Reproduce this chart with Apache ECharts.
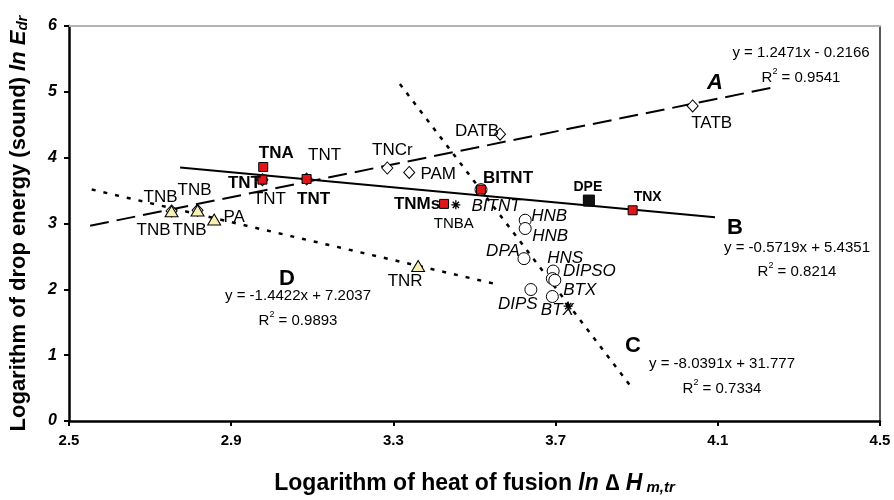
<!DOCTYPE html>
<html><head><meta charset="utf-8">
<script src="https://cdn.jsdelivr.net/npm/echarts@6/dist/echarts.min.js"></script>
<style>html,body{margin:0;padding:0;background:#fff}#c{width:894px;height:500px}</style>
</head><body><div id="c"></div>
<script>
// ---------- DATA ----------
const xTicks = [2.5, 2.9, 3.3, 3.7, 4.1, 4.5];
const yTicks = [0, 1, 2, 3, 4, 5, 6];

// Group A (open diamonds)
const aNames = ['TNB', 'TNB', 'TNT', 'TNT', 'TNCr', 'PAM', 'DATB', 'TATB'];
const aX = [2.753, 2.817, 2.977, 3.086, 3.285, 3.339, 3.563, 4.038];
const aY = [3.19, 3.20, 3.666, 3.676, 3.843, 3.776, 4.357, 4.785];

// Group B (red squares)
const bNames = ['TNA', 'TNT', 'TNT', 'TNMs', 'BITNT', 'TNX'];
const bX = [2.979, 2.977, 3.086, 3.425, 3.516, 3.890];
const bY = [3.858, 3.666, 3.676, 3.298, 3.514, 3.201];

// DPE (black square)
const dpeNames = ['DPE'];
const dpeX = [3.782];
const dpeY = [3.348];

// Group C (open circles)
const cNames = ['BITNT', 'HNB', 'HNB', 'DPA', 'HNS', 'DIPSO', 'BTX', 'DIPS', 'BTX'];
const cX = [3.516, 3.625, 3.625, 3.622, 3.694, 3.692, 3.698, 3.639, 3.692];
const cY = [3.514, 3.050, 2.924, 2.466, 2.278, 2.163, 2.138, 1.997, 1.891];

// Group D (triangles)
const dNames = ['TNB', 'TNB', 'PA', 'TNR'];
const dX = [2.753, 2.817, 2.858, 3.361];
const dY = [3.186, 3.197, 3.060, 2.354];

// Asterisk markers
const sNames = ['TNBA', ''];
const sX = [3.454, 3.731];
const sY = [3.283, 1.745];

// Trend lines (end points)
const lineAX = [2.552, 4.236], lineAY = [2.966, 5.066];
const lineBX = [2.774, 4.093], lineBY = [3.849, 3.094];
const lineCX = [3.316, 3.890], lineCY = [5.119, 0.490];
const lineDX = [2.556, 3.550], lineDY = [3.517, 2.084];

// Equation texts
const eqA = ['y = 1.2471x - 0.2166', '0.9541'];
const eqB = ['y = -0.5719x + 5.4351', '0.8214'];
const eqC = ['y = -8.0391x + 31.777', '0.7334'];
const eqD = ['y = -1.4422x + 7.2037', '0.9893'];

// ---------- LAYOUT (label offsets, px) ----------
const aOff = [[-11, -14], [-3, -20], [7, 20], [18, -24], [5, -18], [29, 2], [-23, -3], [19, 17]];
const bOff = [[13, -14], [-18, 4], [7, 20], [-27, 0], [27, -11], [15, -13]];
const bSize = [17, 17, 17, 17, 17, 14];
const dpeOff = [[-1, -13]];
const cOff = [[15, 17], [24, -4], [25, 8], [-21, -7], [12, -13], [37, -7], [25, 10], [-13, 15], [5, 14]];
const dOff = [[-18, 19], [-8, 20], [20, -2], [-13, 15]];
const sOff = [[-2, 19], [0, 0]];

const FONT = '"Liberation Sans", Arial, Helvetica, sans-serif';

function pairs(xs, ys) { return xs.map((x, i) => [x, ys[i]]); }
function items(names, xs, ys, offs, style, sizes) {
  return xs.map((x, i) => ({
    value: [x, ys[i]],
    name: names[i],
    label: Object.assign({
      show: !!names[i], formatter: '{b}', position: 'inside', offset: offs[i],
      color: '#000', fontFamily: FONT, fontSize: sizes ? sizes[i] : 17
    }, style)
  }));
}
function trend(xs, ys, dash, w) {
  return {
    type: 'line', data: pairs(xs, ys), showSymbol: false, symbol: 'none', silent: true,
    lineStyle: { color: '#000', width: w, type: dash }, z: 1, animation: false
  };
}

const chart = echarts.init(document.getElementById('c'), null, { renderer: 'canvas' });

function eqGraphics(eq, cx, cy1, cy2) {
  return [
    { type: 'text', x: cx, y: cy1, style: { text: eq[0], font: '15px ' + FONT, fill: '#000', align: 'center', verticalAlign: 'middle' } },
    { type: 'text', x: cx, y: cy2, style: {
      text: '{r|R}{s|2}{r| = ' + eq[1] + '}', align: 'center', verticalAlign: 'middle',
      rich: {
        r: { fontFamily: FONT, fontSize: 15, fill: '#000', color: '#000', lineHeight: 18, verticalAlign: 'bottom' },
        s: { fontFamily: FONT, fontSize: 9, fill: '#000', color: '#000', lineHeight: 9, verticalAlign: 'top' }
      }
    } }
  ];
}
function letter(t, cx, cy, italic) {
  return { type: 'text', x: cx, y: cy, style: { text: t, font: (italic ? 'italic ' : '') + 'bold 22px ' + FONT, fill: '#000', align: 'center', verticalAlign: 'middle' } };
}

function titleRich(size) {
  return {
    b: { fontFamily: FONT, fontWeight: 'bold', fontSize: size, color: '#000', lineHeight: size + 5, verticalAlign: 'bottom' },
    i: { fontFamily: FONT, fontWeight: 'bold', fontStyle: 'italic', fontSize: size, color: '#000', lineHeight: size + 5, verticalAlign: 'bottom' },
    s: { fontFamily: FONT, fontWeight: 'bold', fontStyle: 'italic', fontSize: Math.round(size * 0.66), color: '#000', lineHeight: Math.round(size * 0.66), verticalAlign: 'bottom' }
  };
}

const option = {
  animation: false,
  backgroundColor: '#fff',
  grid: { left: 69, right: 14, top: 26, bottom: 78, containLabel: false },
  xAxis: [{
    type: 'value', min: 2.5, max: 4.5, position: 'bottom',
    axisLine: { show: true, onZero: false, lineStyle: { color: '#000', width: 2.5 } },
    axisTick: { show: true, inside: false, length: 5, customValues: xTicks, lineStyle: { color: '#000', width: 2 } },
    axisLabel: { customValues: xTicks, formatter: v => v.toFixed(1), fontFamily: FONT, fontWeight: 'bold', fontSize: 15, color: '#000', margin: 12 },
    splitLine: { show: false },
    name: '{b|Logarithm of heat of fusion }{i|ln \u2206 H}{s| m,tr}',
    nameLocation: 'middle', nameGap: 46,
    nameTextStyle: { rich: titleRich(23) }
  }, {
    type: 'value', min: 2.5, max: 4.5, position: 'top',
    axisLine: { show: true, onZero: false, lineStyle: { color: '#b4b4b4', width: 2 } },
    axisTick: { show: false }, axisLabel: { show: false }, splitLine: { show: false }
  }],
  yAxis: [{
    type: 'value', min: 0, max: 6, interval: 1, position: 'left',
    axisLine: { show: true, onZero: false, lineStyle: { color: '#000', width: 2.5 } },
    axisTick: { show: true, length: 5, customValues: yTicks, lineStyle: { color: '#000', width: 2 } },
    axisLabel: { customValues: yTicks, fontFamily: FONT, fontWeight: 'bold', fontStyle: 'italic', fontSize: 16, color: '#000', margin: 12 },
    splitLine: { show: false },
    name: '{b|Logarithm of drop energy (sound) }{i|ln E}{s|dr}',
    nameLocation: 'middle', nameGap: 39, nameRotate: 90,
    nameTextStyle: { rich: titleRich(22) }
  }, {
    type: 'value', min: 0, max: 6, position: 'right',
    axisLine: { show: true, onZero: false, lineStyle: { color: '#222', width: 1.5 } },
    axisTick: { show: false }, axisLabel: { show: false }, splitLine: { show: false }
  }],
  series: [
    trend(lineAX, lineAY, [19, 8], 2),
    trend(lineBX, lineBY, 'solid', 2),
    trend(lineCX, lineCY, [4, 7], 2.5),
    trend(lineDX, lineDY, [4, 8], 2.5),
    {
      type: 'scatter', symbol: 'diamond', symbolSize: [11, 12], z: 3,
      itemStyle: { color: '#fff', borderColor: '#000', borderWidth: 1, opacity: 1 },
      data: items(aNames, aX, aY, aOff, {})
    },
    {
      type: 'scatter', symbol: 'circle', symbolSize: 12, z: 3,
      itemStyle: { color: '#fff', borderColor: '#000', borderWidth: 1, opacity: 1 },
      data: items(cNames, cX, cY, cOff, { fontStyle: 'italic' })
    },
    {
      type: 'scatter', symbol: 'rect', symbolSize: 9, z: 4,
      itemStyle: { color: '#e0161b', borderColor: '#000', borderWidth: 1, opacity: 1 },
      data: items(bNames, bX, bY, bOff, { fontWeight: 'bold' }, bSize)
    },
    {
      type: 'scatter', symbol: 'rect', symbolSize: 11, z: 4,
      itemStyle: { color: '#111', borderColor: '#000', borderWidth: 1, opacity: 1 },
      data: items(dpeNames, dpeX, dpeY, dpeOff, { fontWeight: 'bold', fontSize: 14 })
    },
    {
      type: 'scatter', symbol: 'triangle', symbolSize: [13, 11], z: 5,
      itemStyle: { color: '#f7f0b4', borderColor: '#000', borderWidth: 1, opacity: 1 },
      data: items(dNames, dX, dY, dOff, {})
    },
    {
      type: 'scatter', symbol: 'path://M0,5L10,5M5,0L5,10M1.5,1.5L8.5,8.5M8.5,1.5L1.5,8.5', symbolSize: 9, z: 5,
      itemStyle: { color: 'none', borderColor: '#000', borderWidth: 1.3, opacity: 1 },
      data: items(sNames, sX, sY, sOff, { fontSize: 15 })
    }
  ],
  graphic: [].concat(
    eqGraphics(eqA, 801, 53, 76),
    eqGraphics(eqB, 797, 248, 270),
    eqGraphics(eqC, 722, 364, 387),
    eqGraphics(eqD, 298, 296, 319),
    [letter('A', 715, 83, true), letter('B', 735, 228, false), letter('C', 633, 346, false), letter('D', 287, 279, false)]
  )
};
chart.setOption(option);
</script>
</body></html>
